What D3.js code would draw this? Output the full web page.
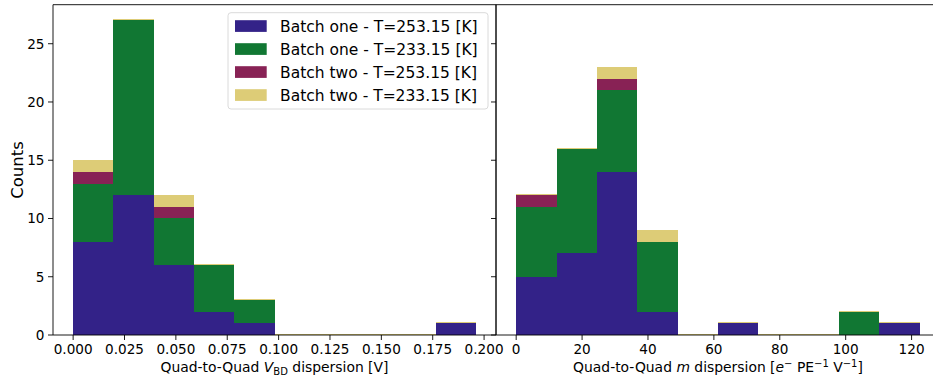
<!DOCTYPE html>
<html>
<head>
<meta charset="utf-8">
<script src="https://cdn.jsdelivr.net/npm/d3@7"></script>
<style>
  html, body { margin: 0; padding: 0; background: #fff; }
  svg { display: block; font-family: "DejaVu Sans", sans-serif; }
</style>
</head>
<body>
<svg id="chart" width="933" height="379"></svg>
<script>
// Series (stack order, bottom to top)
const seriesNames = [
  "Batch one - T=253.15 [K]",
  "Batch one - T=233.15 [K]",
  "Batch two - T=253.15 [K]",
  "Batch two - T=233.15 [K]"
];
const seriesColors = ["#332288", "#117733", "#882255", "#DDCC77"];

// Quad-to-quad breakdown-voltage dispersion histogram
const vbdBinEdges = [0, 0.0196, 0.0392, 0.0588, 0.0784, 0.098, 0.1176, 0.1372, 0.1568, 0.1764, 0.196];
const vbdBatchOne253 = [8, 12, 6, 2, 1, 0, 0, 0, 0, 1];
const vbdBatchOne233 = [5, 15, 4, 4, 2, 0, 0, 0, 0, 0];
const vbdBatchTwo253 = [1, 0, 1, 0, 0, 0, 0, 0, 0, 0];
const vbdBatchTwo233 = [1, 0, 1, 0, 0, 0, 0, 0, 0, 0];
const vbdTicks = [0, 0.025, 0.05, 0.075, 0.1, 0.125, 0.15, 0.175, 0.2];

// Quad-to-quad gain-slope dispersion histogram
const mBinEdges = [0, 12.25, 24.5, 36.75, 49, 61.25, 73.5, 85.75, 98, 110.25, 122.5];
const mBatchOne253 = [5, 7, 14, 2, 0, 1, 0, 0, 0, 1];
const mBatchOne233 = [6, 9, 7, 6, 0, 0, 0, 0, 2, 0];
const mBatchTwo253 = [1, 0, 1, 0, 0, 0, 0, 0, 0, 0];
const mBatchTwo233 = [0, 0, 1, 1, 0, 0, 0, 0, 0, 0];
const mTicks = [0, 20, 40, 60, 80, 100, 120];

const countTicks = [0, 5, 10, 15, 20, 25];

const svg = d3.select("#chart");
const plotTop = 4.7, plotBottom = 335;
const tickFont = 13.6;
const labelFont = 13.9;

// shared y scale (stacked counts, 5% headroom)
function stackMax(list) {
  return d3.max(d3.range(list[0].length), i => d3.sum(list, s => s[i]));
}
const vbdSeries = [vbdBatchOne253, vbdBatchOne233, vbdBatchTwo253, vbdBatchTwo233];
const mSeries = [mBatchOne253, mBatchOne233, mBatchTwo253, mBatchTwo233];
const yMax = Math.max(stackMax(vbdSeries), stackMax(mSeries)) * 1.05;
const y = d3.scaleLinear().domain([0, yMax]).range([plotBottom, plotTop]);

function panel(opts) {
  const { left, right, edges, series, ticks, fmt, showY } = opts;
  const lo = edges[0], hi = edges[edges.length - 1];
  const pad = (hi - lo) * 0.05;
  const x = d3.scaleLinear().domain([lo - pad, hi + pad]).range([left, right]);
  const g = svg.append("g");

  // stacked bars; an empty segment still leaves a hairline at its level
  const nBins = edges.length - 1;
  const base = new Array(nBins).fill(0);
  series.forEach((vals, si) => {
    vals.forEach((v, i) => {
      const y0 = base[i], y1 = base[i] + v;
      const h = y(y0) - y(y1);
      const x0 = x(edges[i]), x1 = x(edges[i + 1]);
      const r = g.append("rect")
        .attr("x", x0)
        .attr("width", x1 - x0)
        .attr("fill", seriesColors[si])
        .attr("shape-rendering", "crispEdges");
      if (h > 0) {
        r.attr("y", y(y1)).attr("height", h);
      } else {
        r.attr("y", Math.round(y(y1)) - 1).attr("height", 1);
      }
      base[i] = y1;
    });
  });

  // spines
  const line = (x1, y1, x2, y2) => g.append("line")
    .attr("x1", x1).attr("y1", y1).attr("x2", x2).attr("y2", y2)
    .attr("stroke", "#000").attr("stroke-width", 0.9);
  line(left, plotTop, left, plotBottom);
  line(left, plotBottom, right, plotBottom);
  line(left, plotTop, right, plotTop);
  line(right, plotTop, right, plotBottom);

  // x ticks
  ticks.forEach(t => {
    const px = x(t);
    line(px, plotBottom, px, plotBottom + 5);
    g.append("text")
      .attr("x", px).attr("y", plotBottom + 18.5)
      .attr("text-anchor", "middle")
      .attr("font-size", tickFont)
      .attr("fill", "#000")
      .text(fmt(t));
  });

  // y ticks
  countTicks.forEach(t => {
    const py = y(t);
    line(left - 5, py, left, py);
    if (showY) {
      g.append("text")
        .attr("x", left - 8.5).attr("y", py + 5)
        .attr("text-anchor", "end")
        .attr("font-size", tickFont)
        .attr("fill", "#000")
        .text(t);
    }
  });
  return { x, g };
}

panel({
  left: 53, right: 496, edges: vbdBinEdges, series: vbdSeries,
  ticks: vbdTicks, fmt: d3.format(".3f"), showY: true
});
panel({
  left: 496, right: 940, edges: mBinEdges, series: mSeries,
  ticks: mTicks, fmt: d3.format("d"), showY: false
});

// axis labels
svg.append("text")
  .attr("transform", "translate(23,170) rotate(-90)")
  .attr("text-anchor", "middle")
  .attr("font-size", 16.5)
  .text("Counts");

const xl1 = svg.append("text")
  .attr("x", (53 + 496) / 2).attr("y", 372)
  .attr("text-anchor", "middle")
  .attr("font-size", labelFont);
xl1.append("tspan").text("Quad-to-Quad ");
xl1.append("tspan").attr("font-style", "italic").text("V");
xl1.append("tspan").attr("font-size", labelFont * 0.72).attr("dy", 3).text("BD");
xl1.append("tspan").attr("dy", -3).text(" dispersion [V]");

const xl2 = svg.append("text")
  .attr("x", (496 + 940) / 2).attr("y", 372)
  .attr("text-anchor", "middle")
  .attr("font-size", labelFont);
xl2.append("tspan").text("Quad-to-Quad ");
xl2.append("tspan").attr("font-style", "italic").text("m");
xl2.append("tspan").text(" dispersion [");
xl2.append("tspan").attr("font-style", "italic").text("e");
xl2.append("tspan").attr("font-size", labelFont * 0.72).attr("dy", -5.5).text("\u2212");
xl2.append("tspan").attr("dy", 5.5).text(" PE");
xl2.append("tspan").attr("font-size", labelFont * 0.72).attr("dy", -5.5).text("\u22121");
xl2.append("tspan").attr("dy", 5.5).text(" V");
xl2.append("tspan").attr("font-size", labelFont * 0.72).attr("dy", -5.5).text("\u22121");
xl2.append("tspan").attr("dy", 5.5).text("]");

// legend
const lg = svg.append("g");
lg.append("rect")
  .attr("x", 228).attr("y", 12.7).attr("width", 260).attr("height", 96.3)
  .attr("rx", 3).attr("ry", 3)
  .attr("fill", "#fff").attr("fill-opacity", 0.8)
  .attr("stroke", "#d6d6d6").attr("stroke-width", 0.9);
seriesNames.forEach((name, i) => {
  const cy = 26 + i * 23;
  lg.append("rect")
    .attr("x", 235).attr("y", cy - 5.8).attr("width", 31.7).attr("height", 11.7)
    .attr("fill", seriesColors[i]);
  lg.append("text")
    .attr("x", 280).attr("y", cy + 5.5)
    .attr("font-size", 15.5)
    .attr("fill", "#000")
    .text(name);
});
</script>
</body>
</html>
